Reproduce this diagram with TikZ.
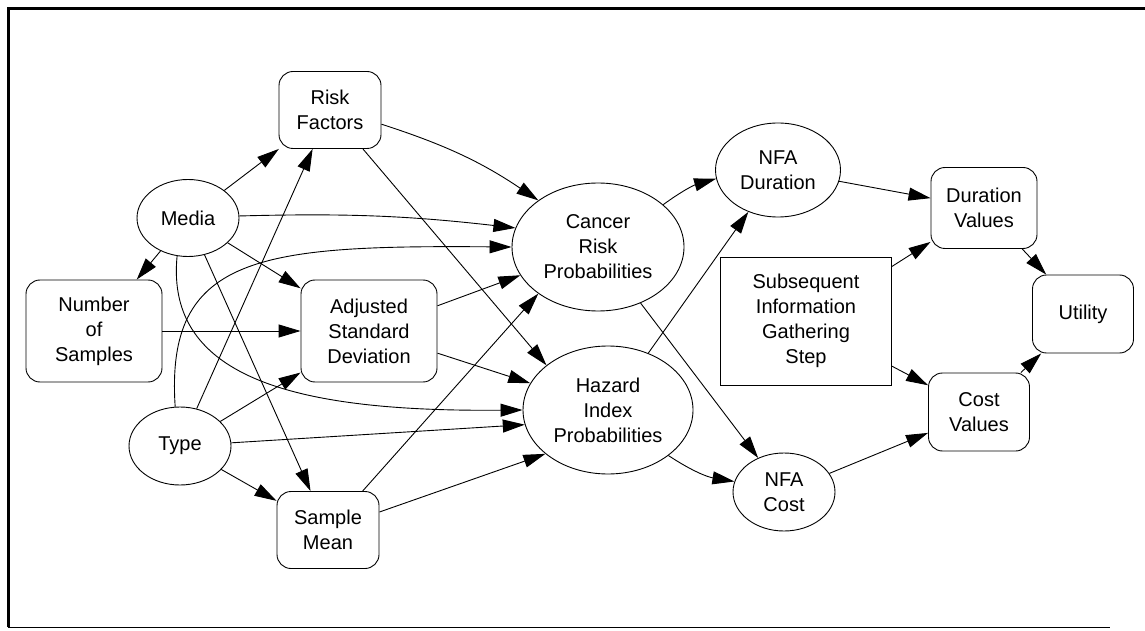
\documentclass[tikz,border=0pt]{standalone}
\usepackage{fontspec}
\setmainfont{Liberation Sans}
\usetikzlibrary{shapes.geometric,arrows.meta}
\begin{document}
\begin{tikzpicture}[x=1pt,y=1pt,>={Triangle[length=22pt,width=13pt]},line width=0.9pt,
    every node/.style={align=center,inner sep=0pt,font=\fontsize{20}{25}\selectfont},
    rbox/.style={draw,rounded corners=14pt,minimum width=102pt,minimum height=77pt},
    oval/.style={draw,ellipse,minimum width=102pt,minimum height=77pt}]
\useasboundingbox(0,0)rectangle(1145,630);
\draw[line width=3pt](8,3)--(8,621)--(1145,621);
\draw(8,3)--(1110,3);
\node[rbox](risk) at (330,520){Risk\\Factors};
\node[oval](media) at (188,412){Media};
\node[rbox,minimum width=136pt,minimum height=102pt](nsamp) at (94,299){Number\\of\\Samples};
\node[rbox,minimum width=136pt,minimum height=102pt](adjsd) at (369,299){Adjusted\\Standard\\Deviation};
\node[oval,minimum height=78pt](type) at (180,184){Type};
\node[rbox](smean) at (328,100){Sample\\Mean};
\node[oval,minimum width=172pt,minimum height=128pt](cancer) at (598,383){Cancer\\Risk\\Probabilities};
\node[oval,minimum width=170pt,minimum height=128pt](hazard) at (608,220){Hazard\\Index\\Probabilities};
\node[oval,minimum width=125pt,minimum height=94pt](nfadur) at (778,460){NFA\\Duration};
\node[oval,minimum height=78pt](nfacost) at (784,138){NFA\\Cost};
\node[draw,minimum width=171pt,minimum height=128pt](subseq) at (806,309){Subsequent\\Information\\Gathering\\Step};
\node[rbox,minimum width=106pt,minimum height=81pt](durval) at (984,422){Duration\\Values};
\node[rbox,minimum width=101pt,minimum height=78pt](costval) at (979,218){Cost\\Values};
\node[rbox,minimum width=101pt,minimum height=78pt](utility) at (1083,316){Utility};
\foreach \a/\b in {media/risk,type/risk,media/nsamp,media/adjsd,media/smean,nsamp/adjsd,type/adjsd,type/smean,cancer/nfacost,hazard/nfadur,nfadur/durval,nfacost/costval,subseq/durval,subseq/costval,durval/utility,costval/utility}
{
    \draw[->](\a)--(\b);
}
\foreach \a/\b/\c in {adjsd/cancer/200,smean/cancer/218,risk/hazard/144,adjsd/hazard/161,type/hazard/190,smean/hazard/215}
{
    \draw[->](\a)--(\b.\c);
}
\draw[->](risk) to[bend left=8](cancer.142);
\draw[->](media) to[bend left=4](cancer.167);
\draw[->](type.97) .. controls (165,375) and (260,385) .. (cancer.180);
\draw[->](media.254) .. controls (165,250) and (300,218) .. (hazard.180);
\draw[->](cancer.33) to[bend left=10](nfadur.188);
\draw[->](hazard.-37) to[bend right=12](nfacost.168);
\end{tikzpicture}
\end{document}
